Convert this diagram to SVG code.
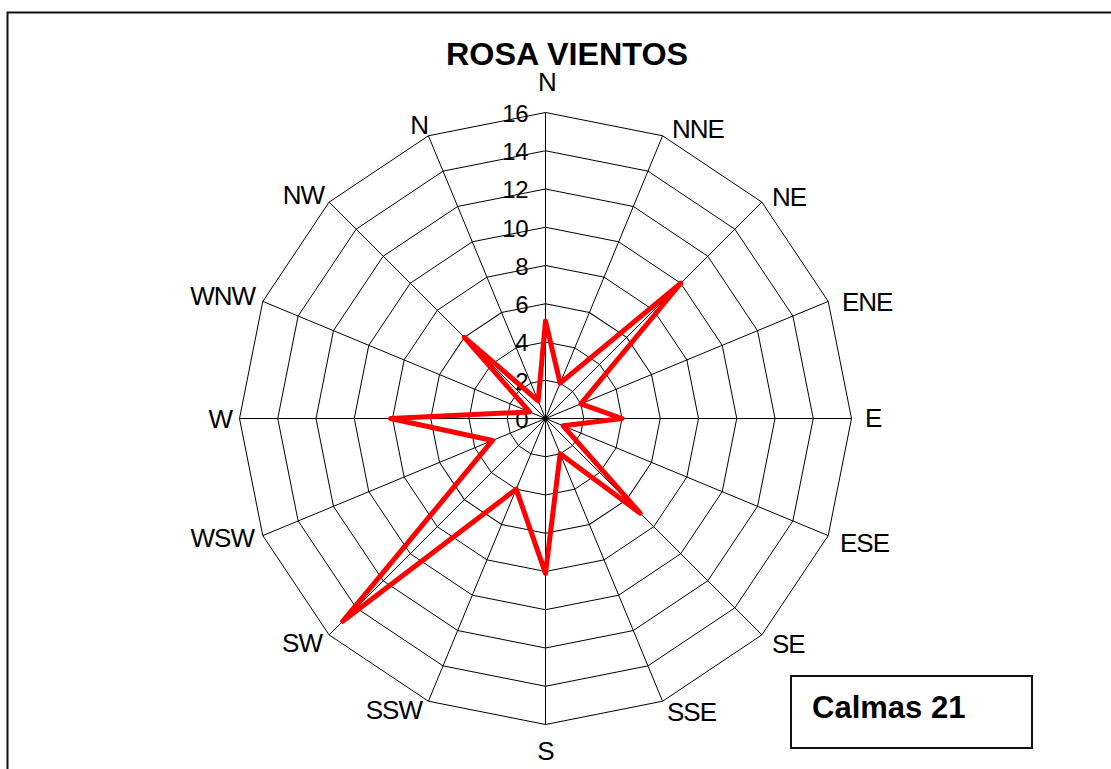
<svg xmlns="http://www.w3.org/2000/svg" xmlns:xlink="http://www.w3.org/1999/xlink" width="1111" height="769" viewBox="0 0 1111 769">
<style>
.grid{fill:none;stroke:#000;stroke-width:1}
.lbl{font-family:"Liberation Sans",Arial,sans-serif;font-size:26px;fill:#000;letter-spacing:-1px}
.num{font-family:"Liberation Sans",Arial,sans-serif;font-size:24px;fill:#000;text-anchor:end;letter-spacing:-0.5px}
.title{font-family:"Liberation Sans",Arial,sans-serif;font-size:31px;font-weight:bold;fill:#000}
.calm{font-family:"Liberation Sans",Arial,sans-serif;font-size:31px;font-weight:bold;fill:#000}
.series{fill:none;stroke:#FF0000;stroke-width:5;stroke-linejoin:round}
</style>
<defs>
<polygon id="ring" points="0,-306 117.1,-282.71 216.38,-216.38 282.71,-117.1 306,0 282.71,117.1 216.38,216.38 117.1,282.71 0,306 -117.1,282.71 -216.38,216.38 -282.71,117.1 -306,0 -282.71,-117.1 -216.38,-216.38 -117.1,-282.71"/>
</defs>
<rect x="0" y="0" width="1111" height="769" fill="#fff"/>
<rect id="frame" x="7.5" y="12.5" width="1120" height="780" fill="none" stroke="#111" stroke-width="2"/>
<text id="title" class="title" x="446" y="65" textLength="242" lengthAdjust="spacingAndGlyphs">ROSA VIENTOS</text>
<g id="grid" transform="translate(545.5,418.5)">
<use xlink:href="#ring" class="grid" transform="scale(0.125)" style="stroke-width:8"/>
<use xlink:href="#ring" class="grid" transform="scale(0.25)" style="stroke-width:4"/>
<use xlink:href="#ring" class="grid" transform="scale(0.375)" style="stroke-width:2.6667"/>
<use xlink:href="#ring" class="grid" transform="scale(0.5)" style="stroke-width:2"/>
<use xlink:href="#ring" class="grid" transform="scale(0.625)" style="stroke-width:1.6"/>
<use xlink:href="#ring" class="grid" transform="scale(0.75)" style="stroke-width:1.3333"/>
<use xlink:href="#ring" class="grid" transform="scale(0.875)" style="stroke-width:1.142857"/>
<use xlink:href="#ring" class="grid"/>
</g>
<g id="connectors" transform="translate(545.5,418.5)" class="grid">
<line x1="0" y1="-306" x2="0" y2="306"/>
<line x1="117.1" y1="-282.71" x2="-117.1" y2="282.71"/>
<line x1="216.38" y1="-216.38" x2="-216.38" y2="216.38"/>
<line x1="282.71" y1="-117.1" x2="-282.71" y2="117.1"/>
<line x1="306" y1="0" x2="-306" y2="0"/>
<line x1="282.71" y1="117.1" x2="-282.71" y2="-117.1"/>
<line x1="216.38" y1="216.38" x2="-216.38" y2="-216.38"/>
<line x1="117.1" y1="282.71" x2="-117.1" y2="-282.71"/>
</g>
<g id="axis-values">
<text class="num" x="528" y="122">16</text>
<text class="num" x="528" y="160">14</text>
<text class="num" x="528" y="198">12</text>
<text class="num" x="528" y="237">10</text>
<text class="num" x="528" y="275">8</text>
<text class="num" x="528" y="313">6</text>
<text class="num" x="528" y="351">4</text>
<text class="num" x="528" y="390">2</text>
<text class="num" x="528" y="428">0</text>
</g>
<g id="series" transform="translate(545.5,418.5)">
<polygon class="series" points="0,-97.5 14.64,-35.34 135.24,-135.24 35.34,-14.64 76.5,0 17.67,7.32 94.66,94.66 14.64,35.34 0,154.9 -29.28,70.68 -202.85,202.85 -53.01,21.96 -154.9,0 -15.9,-6.59 -81.14,-81.14 -7.32,-17.67"/>
</g>
<g id="labels">
<text class="lbl" x="547" y="91" text-anchor="middle">N</text>
<text class="lbl" x="672" y="138">NNE</text>
<text class="lbl" x="772" y="206">NE</text>
<text class="lbl" x="842" y="311">ENE</text>
<text class="lbl" x="865" y="427">E</text>
<text class="lbl" x="840" y="552">ESE</text>
<text class="lbl" x="772" y="653">SE</text>
<text class="lbl" x="667" y="721">SSE</text>
<text class="lbl" x="545.5" y="760" text-anchor="middle">S</text>
<text class="lbl" x="422" y="719" text-anchor="end">SSW</text>
<text class="lbl" x="322" y="652" text-anchor="end">SW</text>
<text class="lbl" x="254" y="547" text-anchor="end">WSW</text>
<text class="lbl" x="232" y="428" text-anchor="end">W</text>
<text class="lbl" x="255" y="305" text-anchor="end">WNW</text>
<text class="lbl" x="324" y="204" text-anchor="end">NW</text>
<text class="lbl" x="428" y="134" text-anchor="end">N</text>
</g>
<g id="calmas">
<rect x="791" y="676" width="241" height="72" fill="#fff" stroke="#111" stroke-width="2"/>
<text class="calm" x="812" y="718">Calmas 21</text>
</g>
</svg>
